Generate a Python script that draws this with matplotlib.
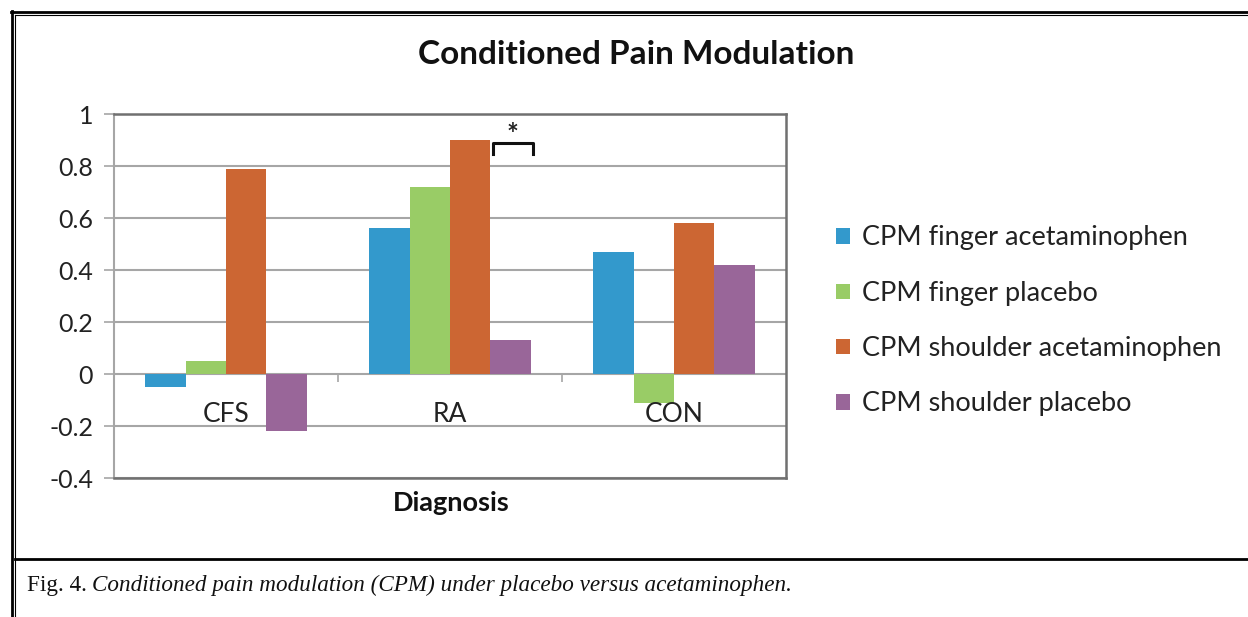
import matplotlib
matplotlib.use("Agg")
import matplotlib.pyplot as plt
import numpy as np
from matplotlib.lines import Line2D
from matplotlib.patches import Patch

categories = ["CFS", "RA", "CON"]
series_names = ["CPM finger acetaminophen", "CPM finger placebo",
                "CPM shoulder acetaminophen", "CPM shoulder placebo"]
finger_acet = [-0.05, 0.56, 0.47]
finger_plac = [0.05, 0.72, -0.11]
shoulder_acet = [0.79, 0.90, 0.58]
shoulder_plac = [-0.22, 0.13, 0.42]
colors = ["#3399CC", "#99CC66", "#CC6633", "#996699"]
yticks = [-0.4, -0.2, 0, 0.2, 0.4, 0.6, 0.8, 1]
ytick_labels = ["-0.4", "-0.2", "0", "0.2", "0.4", "0.6", "0.8", "1"]

W, H = 1248, 617
fig = plt.figure(figsize=(W / 100, H / 100), dpi=100)
FONT = "Lato"

def fx(x):
    return x / W

def fy(y):
    return 1 - y / H

ax = fig.add_axes([fx(114), fy(478), fx(786) - fx(114), fy(114) - fy(478)])

series = [finger_acet, finger_plac, shoulder_acet, shoulder_plac]
x = np.arange(len(categories))
bw = 0.18
for i, (vals, c) in enumerate(zip(series, colors)):
    ax.bar(x + (i - 1.5) * bw, vals, width=bw, color=c, edgecolor="none", zorder=3)

ax.set_xlim(-0.5, len(categories) - 0.5)
ax.set_ylim(-0.4, 1.0)
ax.set_yticks(yticks)
ax.set_yticklabels(ytick_labels, fontfamily=FONT, fontsize=18, color="#222222")
ax.yaxis.grid(True, color="#A6A6A6", lw=1.5, zorder=0)
ax.tick_params(axis="y", length=7, width=1.2, color="#A6A6A6", pad=8)
ax.set_xticks([])
for s in ["top", "right", "bottom"]:
    ax.spines[s].set_color("#707070")
    ax.spines[s].set_linewidth(1.8)
ax.spines["left"].set_color("#A6A6A6")
ax.spines["left"].set_linewidth(1.5)

# category boundary ticks along the zero line
ax.vlines([0.5, 1.5], -0.03, 0, color="#A6A6A6", lw=1.2, zorder=2)

# category labels next to the zero axis
for xi, lab in zip(x, categories):
    ax.annotate(lab, xy=(xi, 0), xytext=(0, -29), textcoords="offset points",
                ha="center", va="center", fontfamily=FONT, fontsize=19, color="#222222")

# significance bracket over RA shoulder placebo
xl = x[1] + 1.5 * bw - bw / 2 + 0.01
xr = x[1] + 1.5 * bw + bw / 2 + 0.01
ax.plot([xl, xl, xr, xr], [0.845, 0.89, 0.89, 0.845], color="#111111", lw=2.2,
        solid_joinstyle="round", zorder=4)
ax.text((xl + xr) / 2, 0.92, "*", ha="center", va="center", fontsize=20,
        fontfamily=FONT, fontweight="bold", color="#222222")

fig.text(fx(636), fy(55), "Conditioned Pain Modulation", ha="center", va="center",
         fontfamily=FONT, fontweight="bold", fontsize=24, color="#111111")
fig.text(fx(451), fy(503), "Diagnosis", ha="center", va="center",
         fontfamily=FONT, fontweight="bold", fontsize=19.5, color="#111111")

handles = [Patch(facecolor=c, edgecolor="none") for c in colors]
fig.legend(handles, series_names, loc="center left",
           bbox_to_anchor=(fx(812), fy(321)), frameon=False,
           prop={"family": FONT, "size": 19.5}, handlelength=0.5, handleheight=0.5,
           handletextpad=0.45, labelspacing=1.12, labelcolor="#222222")

# frame decorations
def hline(y, x0, x1, lw):
    fig.add_artist(Line2D([fx(x0), fx(x1)], [fy(y), fy(y)], color="black", lw=lw))

def vline(xp, y0, y1, lw):
    fig.add_artist(Line2D([fx(xp), fx(xp)], [fy(y0), fy(y1)], color="black", lw=lw))

hline(11.5, 11, W, 2.0)
hline(14.8, 14.8, W, 0.8)
vline(12, 11, H, 2.0)
vline(15.5, 14.8, H, 0.8)
hline(559, 15.5, W, 2.0)

fig.text(fx(27), fy(585), "Fig. 4.", ha="left", va="center",
         fontfamily="Liberation Serif", fontsize=16.7, color="#111111")
fig.text(fx(92), fy(585), "Conditioned pain modulation (CPM) under placebo versus acetaminophen.",
         ha="left", va="center", fontfamily="Liberation Serif", style="italic",
         fontsize=16.7, color="#111111")

fig.savefig("out.png", dpi=100)
